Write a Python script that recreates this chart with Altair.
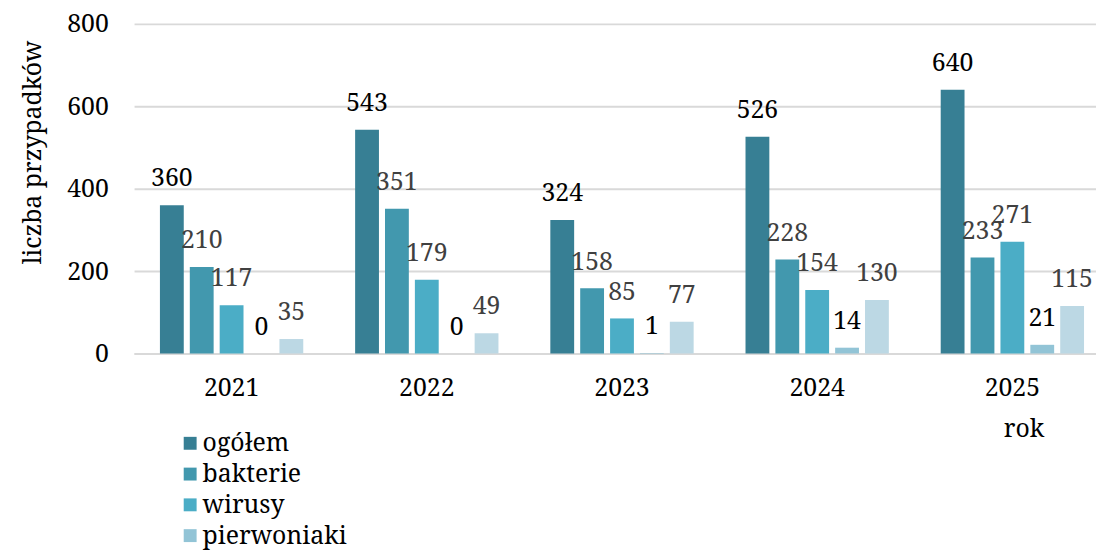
import altair as alt
import pandas as pd

years = ["2021", "2022", "2023", "2024", "2025"]
series = ["ogółem", "bakterie", "wirusy", "pierwoniaki", "inne"]
ogolem = [360, 543, 324, 526, 640]
bakterie = [210, 351, 158, 228, 233]
wirusy = [117, 179, 85, 154, 271]
pierwoniaki = [0, 0, 1, 14, 21]
inne = [35, 49, 77, 130, 115]

values = [ogolem, bakterie, wirusy, pierwoniaki, inne]
rows = []
for s, vals in zip(series, values):
    for y, v in zip(years, vals):
        rows.append({"rok": y, "series": s, "value": v})
df = pd.DataFrame(rows)

bar_colors = ["#377F94", "#4298AE", "#4BADC6", "#92C4D6", "#BCD8E4"]
label_colors = ["#000000", "#404040", "#404040", "#000000", "#404040"]
FONT = "Noto Serif"

x_enc = alt.X(
    "rok:N",
    sort=years,
    scale=alt.Scale(range=[0, 983], paddingInner=0.2347, paddingOuter=0.117, round=False),
    axis=alt.Axis(
        title="rok",
        titleX=896,
        titleY=76,
        titleAlign="center",
        titleBaseline="middle",
        titleFont=FONT,
        titleFontSize=25,
        titleFontWeight="normal",
        titleColor="#000000",
        labelFont=FONT,
        labelFontSize=25,
        labelColor="#000000",
        labelPadding=22,
        ticks=False,
        domainColor="#d9d9d9",
        domainWidth=2,
        labelAngle=0,
    ),
)
xo_enc = alt.XOffset(
    "series:N",
    sort=series,
    scale=alt.Scale(domain=series, paddingInner=0.2, paddingOuter=0.1, round=False),
)
y_enc = alt.Y(
    "value:Q",
    scale=alt.Scale(domain=[0, 800], nice=False),
    axis=alt.Axis(
        title="liczba przypadków",
        values=[0, 200, 400, 600, 800],
        titleX=-102,
        titleY=129,
        titleAlign="center",
        titleBaseline="middle",
        titleFont=FONT,
        titleFontSize=25,
        titleFontWeight="normal",
        titleColor="#000000",
        labelFont=FONT,
        labelFontSize=25,
        labelColor="#000000",
        labelPadding=26,
        ticks=False,
        domain=False,
        gridColor="#d9d9d9",
        gridWidth=2,
    ),
)

bars = alt.Chart(df).mark_bar(size=24).encode(
    x=x_enc,
    xOffset=xo_enc,
    y=y_enc,
    color=alt.Color(
        "series:N",
        scale=alt.Scale(domain=series, range=bar_colors),
        legend=alt.Legend(
            title=None,
            values=series[:4],
            orient="none",
            legendX=44,
            legendY=410,
            symbolType="square",
            symbolSize=169,
            symbolStrokeWidth=0,
            symbolOpacity=1,
            labelFont=FONT,
            labelFontSize=25,
            labelColor="#000000",
            labelOffset=0,
            rowPadding=5,
            padding=0,
        ),
    ),
)

labels = alt.Chart(df).mark_text(
    font=FONT, fontSize=25, baseline="alphabetic", align="center", dy=-19
).encode(
    x=alt.X("rok:N", sort=years),
    xOffset=alt.XOffset("series:N", sort=series),
    y=alt.Y("value:Q"),
    text=alt.Text("value:Q"),
    color=alt.Color(
        "series:N",
        scale=alt.Scale(domain=series, range=label_colors),
        legend=None,
    ),
)

chart = (
    alt.layer(bars, labels)
    .resolve_scale(color="independent")
    .properties(
        width=969,
        height=332,
        autosize=alt.AutoSizeParams(type="none"),
        padding={"left": 127, "top": 14, "right": 0, "bottom": 198},
    )
    .configure_view(stroke=None)
)

chart.save("out.html", embed_options={"renderer": "svg", "actions": False})
